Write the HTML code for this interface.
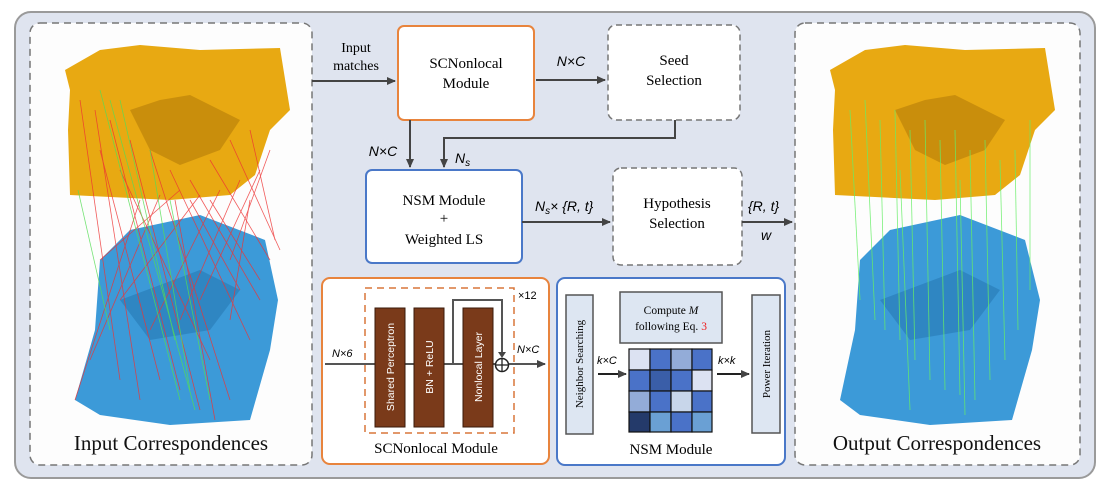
<!DOCTYPE html>
<html><head><meta charset="utf-8"><style>
body{margin:0;width:1107px;height:490px;background:#fff;overflow:hidden;font-family:"Liberation Serif",serif;}
</style></head><body>
<svg width="1107" height="490" viewBox="0 0 1107 490" xmlns="http://www.w3.org/2000/svg" font-family="Liberation Serif, serif">
<defs>
<marker id="ar" markerWidth="10" markerHeight="10" refX="8" refY="4" orient="auto" markerUnits="userSpaceOnUse"><path d="M0,0 L9,4 L0,8 z" fill="#444"/></marker>
</defs>
<rect x="15" y="12" width="1080" height="466" rx="16" fill="#dfe4ef" stroke="#9a9a9a" stroke-width="2"/>
<!-- left panel -->
<rect x="30" y="23" width="282" height="442" rx="10" fill="#fdfdfd" stroke="#777" stroke-width="1.5" stroke-dasharray="7,5"/>
<rect x="795" y="23" width="285" height="442" rx="10" fill="#fdfdfd" stroke="#777" stroke-width="1.5" stroke-dasharray="7,5"/>
<!-- left clouds -->
<g>
<polygon points="65,70 100,50 140,45 200,50 280,48 290,110 270,130 255,175 230,195 170,200 70,195 68,130 70,90" fill="#e8a912"/>
<polygon points="130,110 160,100 190,95 240,120 220,150 180,165 150,150" fill="#c98e0c"/>
<polygon points="100,260 130,230 200,215 265,240 278,300 270,350 250,420 170,425 100,415 75,400 95,330" fill="#3c9ad8"/>
<polygon points="120,300 200,270 240,290 210,330 150,340" fill="#2f86c2"/>
<g stroke="#e33" stroke-width="0.8" opacity="0.8">
<line x1="80" y1="100" x2="120" y2="380"/><line x1="95" y1="110" x2="140" y2="400"/><line x1="110" y1="120" x2="180" y2="390"/><line x1="130" y1="140" x2="200" y2="410"/><line x1="150" y1="150" x2="230" y2="400"/><line x1="170" y1="170" x2="250" y2="340"/><line x1="190" y1="180" x2="260" y2="300"/><line x1="210" y1="160" x2="270" y2="260"/><line x1="230" y1="140" x2="280" y2="250"/><line x1="250" y1="130" x2="275" y2="240"/><line x1="240" y1="180" x2="180" y2="320"/><line x1="220" y1="190" x2="150" y2="330"/><line x1="200" y1="195" x2="120" y2="300"/><line x1="260" y1="170" x2="200" y2="300"/><line x1="270" y1="150" x2="230" y2="260"/><line x1="180" y1="190" x2="100" y2="260"/><line x1="160" y1="195" x2="90" y2="360"/><line x1="140" y1="200" x2="75" y2="400"/><line x1="100" y1="150" x2="160" y2="380"/><line x1="120" y1="170" x2="210" y2="360"/><line x1="250" y1="200" x2="230" y2="320"/><line x1="210" y1="200" x2="260" y2="280"/><line x1="190" y1="200" x2="240" y2="290"/><line x1="175" y1="200" x2="215" y2="420"/>
</g>
<g stroke="#5d5" stroke-width="0.8" opacity="0.8">
<line x1="100" y1="90" x2="180" y2="400"/><line x1="110" y1="100" x2="195" y2="410"/><line x1="78" y1="190" x2="110" y2="330"/><line x1="150" y1="150" x2="190" y2="390"/><line x1="120" y1="100" x2="175" y2="340"/><line x1="170" y1="200" x2="210" y2="400"/>
</g>
</g>
<!-- right clouds -->
<g>
<polygon points="830,70 865,50 905,45 965,50 1045,48 1055,110 1035,130 1020,175 995,195 935,200 835,195 833,130 835,90" fill="#e8a912"/>
<polygon points="895,110 925,100 955,95 1005,120 985,150 945,165 915,150" fill="#c98e0c"/>
<polygon points="860,260 890,230 960,215 1025,240 1040,300 1032,350 1012,420 930,425 860,415 840,400 855,330" fill="#3c9ad8"/>
<polygon points="880,300 960,270 1000,290 970,330 910,340" fill="#2f86c2"/>
<g stroke="#6e6" stroke-width="0.8" opacity="0.85">
<line x1="850" y1="110" x2="860" y2="300"/><line x1="865" y1="100" x2="875" y2="320"/><line x1="880" y1="120" x2="885" y2="330"/><line x1="895" y1="110" x2="900" y2="340"/><line x1="910" y1="130" x2="915" y2="360"/><line x1="925" y1="120" x2="930" y2="380"/><line x1="940" y1="140" x2="945" y2="390"/><line x1="955" y1="130" x2="960" y2="395"/><line x1="970" y1="150" x2="975" y2="400"/><line x1="985" y1="140" x2="990" y2="380"/><line x1="1000" y1="160" x2="1005" y2="360"/><line x1="1015" y1="150" x2="1018" y2="330"/><line x1="1030" y1="120" x2="1030" y2="290"/><line x1="900" y1="170" x2="910" y2="410"/><line x1="960" y1="180" x2="965" y2="415"/>
</g>
</g>
<text x="171" y="450" font-size="21" text-anchor="middle" fill="#111">Input Correspondences</text>
<text x="937" y="450" font-size="21" text-anchor="middle" fill="#111">Output Correspondences</text>
<!-- top flow -->
<rect x="398" y="26" width="136" height="94" rx="6" fill="#fff" stroke="#e8843d" stroke-width="2"/>
<text x="466" y="68" font-size="15" text-anchor="middle">SCNonlocal</text>
<text x="466" y="88" font-size="15" text-anchor="middle">Module</text>
<rect x="608" y="25" width="132" height="95" rx="8" fill="#fff" stroke="#777" stroke-width="1.5" stroke-dasharray="6,4"/>
<text x="674" y="65" font-size="15" text-anchor="middle">Seed</text>
<text x="674" y="85" font-size="15" text-anchor="middle">Selection</text>
<rect x="366" y="170" width="156" height="93" rx="6" fill="#fff" stroke="#4a78c8" stroke-width="2"/>
<text x="444" y="205" font-size="15" text-anchor="middle">NSM Module</text>
<text x="444" y="223" font-size="15" text-anchor="middle">+</text>
<text x="444" y="244" font-size="15" text-anchor="middle">Weighted LS</text>
<rect x="613" y="168" width="129" height="97" rx="8" fill="#fff" stroke="#777" stroke-width="1.5" stroke-dasharray="6,4"/>
<text x="677" y="208" font-size="15" text-anchor="middle">Hypothesis</text>
<text x="677" y="228" font-size="15" text-anchor="middle">Selection</text>
<g stroke="#444" stroke-width="2" fill="none">
<line x1="312" y1="81" x2="395" y2="81" marker-end="url(#ar)"/>
<line x1="536" y1="80" x2="605" y2="80" marker-end="url(#ar)"/>
<line x1="410" y1="120" x2="410" y2="167" marker-end="url(#ar)"/>
<polyline points="675,120 675,138 444,138 444,167" marker-end="url(#ar)"/>
<line x1="522" y1="222" x2="610" y2="222" marker-end="url(#ar)"/>
<line x1="742" y1="222" x2="792" y2="222" marker-end="url(#ar)"/>
</g>
<text x="356" y="52" font-size="14" text-anchor="middle">Input</text>
<text x="356" y="70" font-size="14" text-anchor="middle">matches</text>
<text x="571" y="66" font-size="14" text-anchor="middle" font-style="italic" font-family="Liberation Sans, sans-serif">N×C</text>
<text x="383" y="156" font-size="14" text-anchor="middle" font-style="italic" font-family="Liberation Sans, sans-serif">N×C</text>
<text x="455" y="163" font-size="14" font-style="italic" font-family="Liberation Sans, sans-serif">N<tspan font-size="10" dy="3">s</tspan></text>
<text x="535" y="211" font-size="14" font-style="italic" font-family="Liberation Sans, sans-serif">N<tspan font-size="10" dy="3">s</tspan><tspan dy="-3">× {R, t}</tspan></text>
<text x="748" y="211" font-size="14" font-style="italic" font-family="Liberation Sans, sans-serif">{R, t}</text>
<text x="766" y="240" font-size="14" font-style="italic" text-anchor="middle" font-family="Liberation Sans, sans-serif">w</text>
<!-- SCNonlocal detail -->
<rect x="322" y="278" width="227" height="186" rx="8" fill="#fff" stroke="#e8843d" stroke-width="2"/>
<rect x="365" y="288" width="149" height="145" fill="none" stroke="#d8763a" stroke-width="1.5" stroke-dasharray="7,5"/>
<g stroke="#555" stroke-width="2" fill="none">
<line x1="325" y1="364" x2="375" y2="364"/><line x1="405" y1="364" x2="414" y2="364"/><line x1="444" y1="364" x2="463" y2="364"/><line x1="493" y1="364" x2="492" y2="364"/>
<polyline points="453,364 453,300 502,300 502,356"/>
<line x1="506" y1="364" x2="545" y2="364" marker-end="url(#ar)"/>
<line x1="493" y1="364" x2="493" y2="364"/>
</g>
<line x1="493" y1="364" x2="499" y2="364" stroke="#555" stroke-width="2"/>
<path d="M498,352 L502,358 L506,352" fill="#444"/>
<circle cx="502" cy="365" r="6.5" fill="#fff" stroke="#222" stroke-width="1.5"/>
<line x1="496" y1="365" x2="508" y2="365" stroke="#222" stroke-width="1.3"/><line x1="502" y1="359" x2="502" y2="371" stroke="#222" stroke-width="1.3"/>
<g fill="#7a3a1a" stroke="#3a1a0a" stroke-width="1">
<rect x="375" y="308" width="30" height="119"/><rect x="414" y="308" width="30" height="119"/><rect x="463" y="308" width="30" height="119"/>
</g>
<g fill="#fff" font-family="Liberation Sans, sans-serif" font-size="10.5" text-anchor="middle">
<text transform="translate(394,367) rotate(-90)">Shared Perceptron</text>
<text transform="translate(433,367) rotate(-90)">BN + ReLU</text>
<text transform="translate(482,367) rotate(-90)">Nonlocal Layer</text>
</g>
<text x="332" y="357" font-size="11" font-style="italic" font-family="Liberation Sans, sans-serif">N×6</text>
<text x="517" y="353" font-size="11" font-style="italic" font-family="Liberation Sans, sans-serif">N×C</text>
<text x="518" y="299" font-size="11" font-family="Liberation Sans, sans-serif">×12</text>
<text x="436" y="453" font-size="15" text-anchor="middle">SCNonlocal Module</text>
<!-- NSM detail -->
<rect x="557" y="278" width="228" height="187" rx="8" fill="#fff" stroke="#4a78c8" stroke-width="2"/>
<rect x="566" y="295" width="27" height="139" fill="#dde6f2" stroke="#555" stroke-width="1.5"/>
<text transform="translate(583,364) rotate(-90)" font-size="11" text-anchor="middle">Neighbor Searching</text>
<rect x="620" y="292" width="102" height="51" fill="#dde6f2" stroke="#555" stroke-width="1.5"/>
<text x="671" y="314" font-size="11.5" text-anchor="middle">Compute <tspan font-style="italic">M</tspan></text>
<text x="671" y="330" font-size="11.5" text-anchor="middle">following Eq. <tspan fill="#e22">3</tspan></text>
<rect x="752" y="295" width="28" height="138" fill="#dde6f2" stroke="#555" stroke-width="1.5"/>
<text transform="translate(770,364) rotate(-90)" font-size="11" text-anchor="middle">Power Iteration</text>
<g stroke="#111" stroke-width="1.2">
<rect x="629" y="349" width="21" height="21" fill="#dce2f2"/><rect x="650" y="349" width="21" height="21" fill="#4a72c8"/><rect x="671" y="349" width="21" height="21" fill="#93acd8"/><rect x="692" y="349" width="20" height="21" fill="#4a72c8"/>
<rect x="629" y="370" width="21" height="21" fill="#4a72c8"/><rect x="650" y="370" width="21" height="21" fill="#3a5ea8"/><rect x="671" y="370" width="21" height="21" fill="#4a72c8"/><rect x="692" y="370" width="20" height="21" fill="#dce2f2"/>
<rect x="629" y="391" width="21" height="21" fill="#93acd8"/><rect x="650" y="391" width="21" height="21" fill="#4a72c8"/><rect x="671" y="391" width="21" height="21" fill="#c8d6ea"/><rect x="692" y="391" width="20" height="21" fill="#4a72c8"/>
<rect x="629" y="412" width="21" height="20" fill="#243a6a"/><rect x="650" y="412" width="21" height="20" fill="#6aa0d4"/><rect x="671" y="412" width="21" height="20" fill="#4a72c8"/><rect x="692" y="412" width="20" height="20" fill="#6aa0d4"/>
</g>
<line x1="598" y1="374" x2="626" y2="374" stroke="#222" stroke-width="2" marker-end="url(#ar)"/>
<line x1="717" y1="374" x2="749" y2="374" stroke="#222" stroke-width="2" marker-end="url(#ar)"/>
<text x="597" y="364" font-size="11" font-style="italic" font-family="Liberation Sans, sans-serif">k×C</text>
<text x="718" y="364" font-size="11" font-style="italic" font-family="Liberation Sans, sans-serif">k×k</text>
<text x="671" y="454" font-size="15" text-anchor="middle">NSM Module</text>
</svg>
</body></html>
